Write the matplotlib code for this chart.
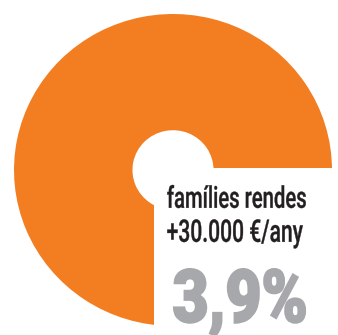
import matplotlib
matplotlib.use("Agg")
import matplotlib.pyplot as plt
from matplotlib.textpath import TextPath
from matplotlib.font_manager import FontProperties
from matplotlib.patches import PathPatch, Rectangle
from matplotlib.transforms import Affine2D

# ring shares: filled part and the open quarter
shares = [75, 25]
ring_colors = ["#F37E22", "white"]
label_lines = ["famílies rendes", "+30.000 €/any"]
value_text = "3,9%"

fig = plt.figure(figsize=(3.38, 3.35), dpi=100)
fig.patch.set_facecolor("white")

# ring axes, sized a bit flatter than wide
ax = fig.add_axes([14 / 338, 9 / 335, 318 / 338, 312 / 335])
ax.pie(shares, colors=ring_colors, startangle=0, counterclock=True,
       radius=1.0, wedgeprops=dict(width=0.745, linewidth=0))
ax.set_aspect("auto")
ax.set_xlim(-1, 1)
ax.set_ylim(-1, 1)
ax.axis("off")
# white label box cut into the lower right of the ring
ax.add_patch(Rectangle((-0.12, -1.2), 1.4, 1.213, facecolor="white",
                       edgecolor="none", zorder=5))

# overlay in pixel coordinates for the labels
tx = fig.add_axes([0, 0, 1, 1])
tx.set_xlim(0, 338)
tx.set_ylim(335, 0)
tx.axis("off")
tx.set_zorder(10)


def squeezed(s, left, base, width, height, ref, prop, color, stroke=0):
    tp = TextPath((0, 0), s, size=100, prop=prop)
    ext = tp.get_extents()
    r = TextPath((0, 0), ref, size=100, prop=prop).get_extents()
    sx = width / ext.width
    sy = height / r.y1
    tr = Affine2D().translate(-ext.x0, 0).scale(sx, -sy).translate(left, base)
    tx.add_patch(PathPatch(tp.transformed(tr), facecolor=color,
                           edgecolor=color if stroke else "none", lw=stroke,
                           joinstyle="miter", clip_on=False))


fp_lab = FontProperties(family="Roboto", weight="medium")
fp_big = FontProperties(family="Roboto", weight="black")

squeezed(label_lines[0], 167.3, 207.8, 138.5, 22.5, "l", fp_lab, "#231F20", 0.25)
squeezed(label_lines[1], 167.3, 241.8, 135.5, 22.5, "0", fp_lab, "#231F20", 0.25)
squeezed(value_text, 174, 322, 131, 53, "3", fp_big, "#A6A8AB", 1.5)

fig.savefig("out.png", dpi=100)
